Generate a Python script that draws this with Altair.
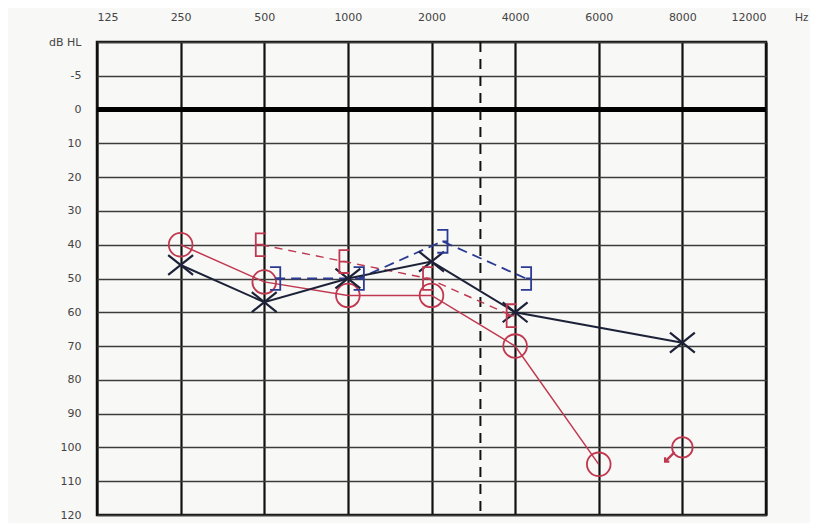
import math
import altair as alt
import pandas as pd

# ---- data ----
freqs = [125, 250, 500, 1000, 2000, 4000, 6000, 8000, 12000]
freq_labels = ["125", "250", "500", "1000", "2000", "4000", "6000", "8000", "12000"]
y_ticks = [-20, -10, 0, 10, 20, 30, 40, 50, 60, 70, 80, 90, 100, 110, 120]

right_air_freq = [250, 500, 1000, 2000, 4000, 6000]
right_air_db = [40, 51, 55, 55, 70, 105]

right_nr_freq = [8000]
right_nr_db = [100]

left_air_freq = [250, 500, 1000, 2000, 4000, 8000]
left_air_db = [46, 57, 50, 45, 60, 69]

right_bone_freq = [500, 1000, 2000, 4000]
right_bone_db = [40, 45, 50, 61]

left_bone_freq = [500, 1000, 2000, 4000]
left_bone_db = [50, 50, 39, 50]

mid_freq = 3000  # dashed inter-octave line

# ---- build table ----
rows = []


def add(series, fs, dbs):
    for f, d in zip(fs, dbs):
        rows.append({"series": series, "freq": f, "db": d, "pos": freqs.index(f)})


add("right_air", right_air_freq, right_air_db)
add("right_nr", right_nr_freq, right_nr_db)
add("left_air", left_air_freq, left_air_db)
add("right_bone", right_bone_freq, right_bone_db)
add("left_bone", left_bone_freq, left_bone_db)
df = pd.DataFrame(rows)

i2k = freqs.index(2000)
mid_pos = i2k + math.log2(mid_freq / 2000)

RED = "#c0384f"
DARK = "#1d2238"
BLUE = "#2b3a93"

label_expr = "[" + ",".join("'%s'" % l for l in freq_labels) + "][datum.value]"

xs = alt.Scale(domain=[0, len(freqs) - 1], nice=False, zero=False)
ys = alt.Scale(domain=[-20, 120], reverse=True, nice=False, zero=False)

x_axis = alt.Axis(
    orient="top", values=list(range(len(freqs))), labelExpr=label_expr,
    grid=True, gridColor="#111111", gridWidth=2.2, domain=False, ticks=False,
    labelPadding=20, labelFontSize=11, labelColor="#444", title=None,
    labelOverlap=False,
)
y_axis = alt.Axis(
    values=y_ticks,
    labelExpr="datum.value == -20 ? 'dB HL' : (datum.value == -10 ? '-5' : datum.value)",
    grid=True, gridColor="#3c3c3c", gridWidth=1.6, domain=False, ticks=False,
    labelPadding=16, labelFontSize=11, labelColor="#444", title=None,
    labelOverlap=False,
)


def X(field):
    return alt.X(field, type="quantitative", scale=xs, axis=x_axis)


def Y(field):
    return alt.Y(field, type="quantitative", scale=ys, axis=y_axis)


base = alt.Chart(df)

zero_line = alt.Chart(pd.DataFrame({"db": [0]})).mark_rule(color="#000", strokeWidth=5).encode(
    y=Y("db")
)

mid_line = alt.Chart(pd.DataFrame({"pos": [mid_pos]})).mark_rule(
    color="#111", strokeWidth=2, strokeDash=[10, 7]
).encode(x=X("pos"))


def series_line(name, color, dash=None, offset=0.0, width=1.6):
    kw = {"color": color, "strokeWidth": width}
    if dash:
        kw["strokeDash"] = dash
    return (
        base.transform_filter(alt.datum.series == name)
        .transform_calculate(px="datum.pos + %f" % offset)
        .mark_line(**kw)
        .encode(x=X("px"), y=Y("db"), order="pos:Q")
    )


def series_points(name, color, shape, size, offset=0.0, dy=0.0, width=2.0):
    return (
        base.transform_filter(alt.datum.series == name)
        .transform_calculate(px="datum.pos + %f" % offset, py="datum.db + %f" % dy)
        .mark_point(shape=shape, size=size, color=color, filled=False, strokeWidth=width, opacity=1)
        .encode(x=X("px"), y=Y("py"))
    )


X_SHAPE = "M-1,-0.8L1,0.8M-1,0.8L1,-0.8"
E_SHAPE = "M0.45,-1L-0.45,-1L-0.45,1L0.45,1M-0.45,0L0.2,0"
RB_SHAPE = "M-0.45,-1L0.45,-1L0.45,1L-0.45,1M0.45,0L0.0,0"
ARROW = "M1,-1L-1,1M-1,0.1L-1,1L-0.1,1"

layers = [
    zero_line,
    mid_line,
    series_line("right_bone", RED, dash=[8, 6], offset=-0.04, width=1.4),
    series_line("left_bone", BLUE, dash=[10, 6], offset=0.13, width=1.8),
    series_line("right_air", RED, width=1.5),
    series_line("left_air", DARK, width=2),
    series_points("right_air", RED, "circle", 560, width=1.8),
    series_points("right_nr", RED, "circle", 420, width=1.8),
    series_points("right_nr", RED, ARROW, 90, offset=-0.15, dy=2.8, width=2.2),
    series_points("left_air", DARK, X_SHAPE, 620, width=2.2),
    series_points("right_bone", RED, E_SHAPE, 520, offset=-0.04, width=1.8),
    series_points("left_bone", BLUE, RB_SHAPE, 520, offset=0.13, width=1.8),
]

hz = alt.Chart(pd.DataFrame({"t": ["Hz"]})).mark_text(
    fontSize=11, color="#444", align="left", baseline="bottom"
).encode(x=alt.value(698), y=alt.value(-19), text="t:N")
layers.append(hz)

chart = (
    alt.layer(*layers)
    .properties(
        width=669, height=473,
        autosize=alt.AutoSizeParams(type="none"),
        padding={"left": 89, "top": 34, "right": 44, "bottom": 8},
        background="#f8f8f6",
    )
    .configure_view(stroke="#111", strokeWidth=2.5)
    .configure_axis(labelFont="DejaVu Sans")
)

chart.save("out.html", embed_options={"renderer": "svg", "actions": False})
